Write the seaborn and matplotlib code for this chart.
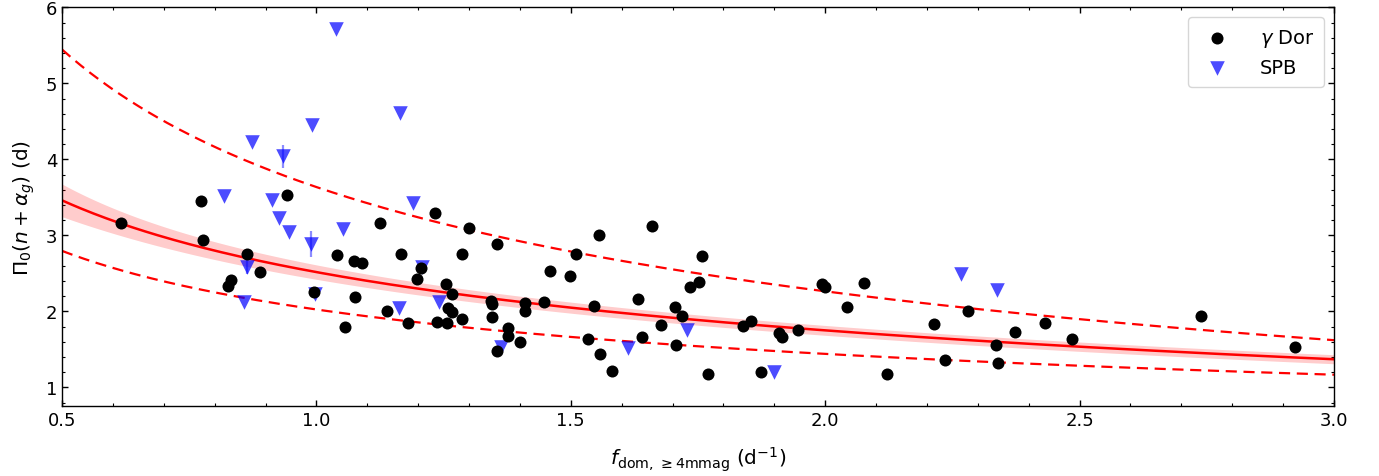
import numpy as np
import pandas as pd
import matplotlib
matplotlib.use("Agg")
import matplotlib.pyplot as plt
from matplotlib.ticker import MultipleLocator
import seaborn as sns

# ---- data ----
gdor_f = [0.616, 0.773, 0.942, 1.125, 0.778, 0.864, 0.889, 0.833, 0.827, 0.996,
          1.041, 1.073, 1.089, 1.166, 1.076, 1.056, 1.139, 1.181,
          1.233, 1.300, 1.355, 1.286, 1.510, 1.555, 1.660, 1.758, 1.459, 1.498,
          1.206, 1.198, 1.255, 1.267, 1.259, 1.267, 1.286, 1.238, 1.257,
          1.343, 1.345, 1.346, 1.409, 1.409, 1.447, 1.376, 1.376, 1.400, 1.354,
          1.546, 1.534, 1.557, 1.581, 1.632, 1.640, 1.705, 1.719, 1.734, 1.752,
          1.677, 1.707, 1.770,
          1.838, 1.854, 1.909, 1.915, 1.947, 1.994, 2.000, 2.076, 2.043, 1.874,
          2.121, 2.214, 2.235, 2.281, 2.336, 2.340, 2.373, 2.432, 2.485, 2.739, 2.923]
gdor_p = [3.16, 3.45, 3.53, 3.16, 2.94, 2.76, 2.52, 2.41, 2.33, 2.26,
          2.74, 2.66, 2.63, 2.76, 2.19, 1.80, 2.00, 1.84,
          3.29, 3.09, 2.88, 2.76, 2.75, 3.01, 3.12, 2.73, 2.53, 2.46,
          2.57, 2.42, 2.36, 2.23, 2.04, 1.99, 1.90, 1.86, 1.84,
          2.13, 2.09, 1.93, 2.11, 2.01, 2.12, 1.78, 1.67, 1.59, 1.48,
          2.07, 1.63, 1.44, 1.21, 2.16, 1.66, 2.06, 1.94, 2.32, 2.38,
          1.82, 1.56, 1.17,
          1.81, 1.87, 1.71, 1.66, 1.75, 2.36, 2.32, 2.37, 2.06, 1.20,
          1.17, 1.83, 1.36, 2.00, 1.56, 1.32, 1.73, 1.84, 1.63, 1.94, 1.53]

spb_f = [1.039, 1.164, 0.991, 0.874, 0.934, 0.819, 0.913, 0.926, 0.946, 1.052,
         1.190, 0.989, 0.863, 0.858, 0.997, 1.162, 1.207, 1.240, 1.363, 1.612,
         1.728, 1.899, 2.267, 2.338]
spb_p = [5.71, 4.61, 4.45, 4.23, 4.04, 3.52, 3.46, 3.23, 3.05, 3.08,
         3.42, 2.89, 2.58, 2.12, 2.23, 2.05, 2.58, 2.12, 1.53, 1.52,
         1.75, 1.20, 2.49, 2.28]
spb_err_f = [0.934, 0.989, 0.863]
spb_err_p = [4.04, 2.89, 2.58]
spb_err = [0.15, 0.17, 0.09]

# fitted relations  y = a * x**b + c
fit_abc = (4.084, -0.3, -1.568)
upper_abc = (5.666, -0.4, -2.031)
lower_abc = (2.413, -0.4, -0.389)
band_h = (0.055, 0.04)   # half-width of confidence band: h0 + h1 * x**-2

# ---- style ----
sns.set_style("ticks")
plt.rcParams['font.family'] = ['DejaVu Sans']
plt.rcParams['mathtext.fontset'] = 'dejavusans'
plt.rcParams['axes.edgecolor'] = 'black'
plt.rcParams['xtick.color'] = 'black'
plt.rcParams['ytick.color'] = 'black'
plt.rcParams['text.color'] = 'black'
plt.rcParams['axes.labelcolor'] = 'black'

fig = plt.figure(figsize=(13.79, 4.77), dpi=100)
ax = fig.add_axes([0.04496, 0.1461, 0.92241, 0.8365])

xg = np.linspace(0.5, 3.0, 400)
def model(p, x):
    a, b, c = p
    return a * x**b + c

yc = model(fit_abc, xg)
hw = band_h[0] + band_h[1] * xg**-2
ax.fill_between(xg, yc - hw, yc + hw, color='red', alpha=0.2, linewidth=0, zorder=1)
curves = pd.DataFrame({'x': xg, 'fit': yc, 'up': model(upper_abc, xg), 'lo': model(lower_abc, xg)})
sns.lineplot(data=curves, x='x', y='fit', color='red', lw=1.8, ax=ax, zorder=2)
sns.lineplot(data=curves, x='x', y='up', color='red', lw=1.6, ax=ax, zorder=2)
sns.lineplot(data=curves, x='x', y='lo', color='red', lw=1.6, ax=ax, zorder=2)
ax.lines[1].set_dashes([5, 3])
ax.lines[2].set_dashes([5, 3])

ax.errorbar(spb_err_f, spb_err_p, yerr=spb_err, fmt='none', ecolor='blue',
            alpha=0.45, elinewidth=1.6, zorder=3)
spb = pd.DataFrame({'f': spb_f, 'p': spb_p})
gd = pd.DataFrame({'f': gdor_f, 'p': gdor_p})
sns.scatterplot(data=spb, x='f', y='p', marker='v', s=110, color='blue', alpha=0.7,
                linewidth=0, ax=ax, zorder=4, label='SPB')
sns.scatterplot(data=gd, x='f', y='p', marker='o', s=75, color='black',
                linewidth=0, ax=ax, zorder=5, label=r'$\gamma$ Dor')

ax.set_xlim(0.5, 3.0)
ax.set_ylim(0.75, 6.0)
ax.xaxis.set_major_locator(MultipleLocator(0.5))
ax.xaxis.set_minor_locator(MultipleLocator(0.1))
ax.yaxis.set_major_locator(MultipleLocator(1))
ax.yaxis.set_minor_locator(MultipleLocator(0.2))
ax.tick_params(which='both', direction='in', top=True, right=True, labelsize=13)
ax.tick_params(which='major', length=4, width=1)
ax.tick_params(which='minor', length=2, width=0.8)
for sp in ax.spines.values():
    sp.set_linewidth(1.0)
    sp.set_color('black')

ax.set_xlabel(r'$f_{\rm dom,\, \geq 4mmag}$ (d$^{-1}$)', fontsize=14.5, labelpad=11)
ax.set_ylabel(r'$\Pi_0(n + \alpha_g)$ (d)', fontsize=14.5, labelpad=6)

h, l = ax.get_legend_handles_labels()
order = [l.index(r'$\gamma$ Dor'), l.index('SPB')]
leg = ax.legend([h[i] for i in order], [l[i] for i in order], loc='upper right',
                fontsize=14, frameon=True, fancybox=True, framealpha=0.8,
                edgecolor='#cccccc', handletextpad=1.2, borderpad=0.5)

fig.savefig('out.png', dpi=100)
